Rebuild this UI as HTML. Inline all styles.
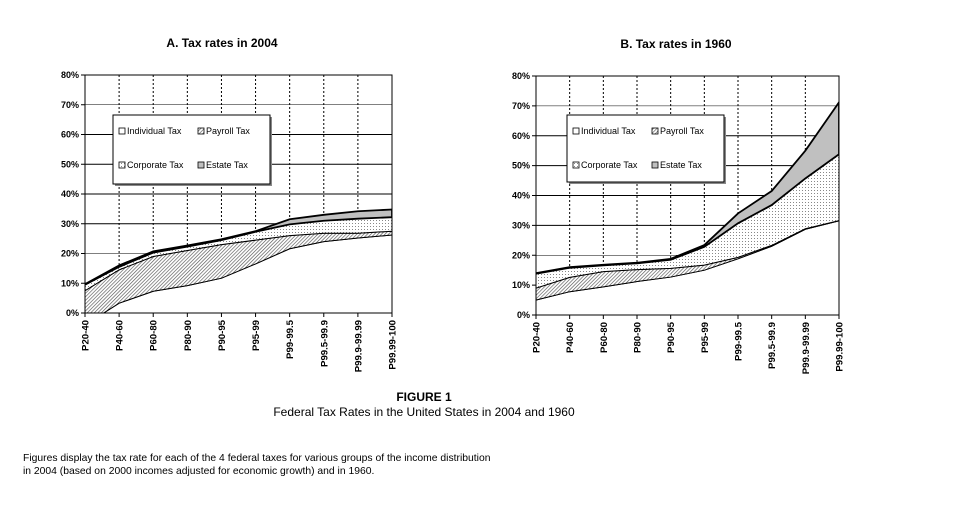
<!DOCTYPE html>
<html><head><meta charset="utf-8"><style>
body{margin:0;background:#fff;width:968px;height:518px;overflow:hidden;font-family:"Liberation Sans",Arial,sans-serif}
svg{position:absolute;left:0;top:0}
.t{position:absolute;white-space:nowrap;color:#000}
</style></head><body>
<svg id="s" width="968" height="518">
<defs>
<pattern id="hatch" width="2.5" height="2.5" patternUnits="userSpaceOnUse" patternTransform="rotate(45)"><rect width="2.5" height="2.5" fill="#fff"/><line x1="0" y1="0" x2="0" y2="2.5" stroke="#555" stroke-width="1.3"/></pattern>
<pattern id="dots" width="3" height="3" patternUnits="userSpaceOnUse"><rect width="3" height="3" fill="#fff"/><rect x="1" y="1" width="1" height="1" fill="#888"/></pattern>
</defs>
</svg>
<div class="t" style="left:0;width:848px;text-align:center;top:390px;font-size:12px;font-weight:bold">FIGURE 1</div>
<div class="t" style="left:0;width:848px;text-align:center;top:405px;font-size:12px">Federal Tax Rates in the United States in 2004 and 1960</div>
<div class="t" style="left:23px;top:452px;font-size:10.35px;line-height:13px">Figures display the tax rate for each of the 4 federal taxes for various groups of the income distribution<br>in 2004 (based on 2000 incomes adjusted for economic growth) and in 1960.</div>
<script>
const categories=["P20-40","P40-60","P60-80","P80-90","P90-95","P95-99","P99-99.5","P99.5-99.9","P99.9-99.99","P99.99-100"];
const yTicks=[0,10,20,30,40,50,60,70,80];
const a_individual=[-4,3.3,7.3,9.2,11.7,16.5,21.6,24,25.2,26.2];
const a_payroll=[11.5,11.2,11.7,11.8,11.3,8,4.4,2.8,1.6,1.3];
const a_corporate=[2,1,1.3,1.3,1.5,2.8,3.8,4.2,4.9,4.7];
const a_estate=[0.2,0.5,0.4,0.4,0.3,0.2,1.7,2,2.5,2.6];
const b_individual=[5,7.8,9.4,11.2,12.7,15,18.8,23,28.7,31.5];
const b_payroll=[4,4.8,5.1,4,2.9,1.7,0.5,0.3,0.2,0.1];
const b_corporate=[4.8,3.2,2.1,2.1,2.9,6.1,11.4,13.5,16.8,22.2];
const b_estate=[0.2,0.2,0.2,0.2,0.3,0.6,3.3,4.7,9.3,17.4];
const NS="http://www.w3.org/2000/svg";
const svg=document.getElementById('s');
function mk(tag,attrs,parent){const e=document.createElementNS(NS,tag);for(const k in attrs)e.setAttribute(k,attrs[k]);(parent||svg).appendChild(e);return e;}
function chart(id,title,titleX,L,R,T,B,series,lg){
  const g=mk('g',{});
  
  
  const x=i=>L+(R-L)*i/(categories.length-1);
  const y=v=>B-(B-T)*v/80;
  const clipId=id+'-clip';
  const cp=mk('clipPath',{id:clipId},g);mk('rect',{x:L,y:T,width:R-L,height:B-T},cp);
  yTicks.forEach(v=>{
    const ln=mk('line',{x1:L,x2:R,y1:y(v),y2:y(v),stroke:'#000','stroke-width':v==70||v==20?0.6:1},g);
    
    
    const tx=mk('text',{x:L-6,y:y(v)+3,'text-anchor':'end','font-size':9,'font-weight':'bold'},g);tx.textContent=v+'%';
    
    
    mk('line',{x1:L-4,x2:L,y1:y(v),y2:y(v),stroke:'#000'},g);
  });
  categories.forEach((c,i)=>{
    if(i>0&&i<categories.length-1){const d=mk('line',{x1:x(i),x2:x(i),y1:T,y2:B,stroke:'#000','stroke-dasharray':'2,2','stroke-width':1},g);
      
      }
    mk('line',{x1:x(i),x2:x(i),y1:B,y2:B+4,stroke:'#000'},g);
    const tx=mk('text',{transform:`translate(${x(i)+3.5},${B+7}) rotate(-90)`,'text-anchor':'end','font-size':9.6,'font-weight':'bold'},g);tx.textContent=c;
    
    
  });
  const fills=['#fff','url(#hatch)','url(#dots)','#c0c0c0'];
  const names=['individual-tax-area','payroll-tax-area','corporate-tax-area','estate-tax-area'];
  let base=categories.map(()=>0);
  const layers=[];
  series.forEach((s,k)=>{
    const top=base.map((b,i)=>b+s[i]);
    layers.push({lo:base.slice(),hi:top});base=top;
  });
  const ag=mk('g',{'clip-path':`url(#${clipId})`},g);
  layers.forEach((l,k)=>{
    let d='M'+l.hi.map((v,i)=>x(i)+','+y(v)).join(' L');
    const lo=k==0?categories.map(()=>-10):l.lo;
    for(let i=categories.length-1;i>=0;i--)d+=' L'+x(i)+','+y(lo[i]);
    const p=mk('path',{d:d+'Z',fill:fills[k],stroke:'#000','stroke-width':k==3?1.8:1},ag);
    
    
  });
  mk('rect',{x:L,y:T,width:R-L,height:B-T,fill:'none',stroke:'#000','stroke-width':1},g);
  const tt=mk('text',{x:titleX,y:T-28,'text-anchor':'middle','font-size':12,'font-weight':'bold'},g);tt.textContent=title;
  
  
  const lgG=mk('g',{},g);
  
  
  mk('rect',{x:lg[0]+2,y:lg[1]+2,width:lg[2],height:lg[3],fill:'#888'},lgG);
  mk('rect',{x:lg[0],y:lg[1],width:lg[2],height:lg[3],fill:'#fff',stroke:'#000'},lgG);
  const labs=['Individual Tax','Payroll Tax','Corporate Tax','Estate Tax'];
  labs.forEach((t,k)=>{
    const lx=lg[0]+6+(k%2)*79, ly=lg[1]+19+Math.floor(k/2)*34;
    const e=mk('g',{},lgG);
    
    
    mk('rect',{x:lx,y:ly-6,width:6,height:6,fill:fills[k],stroke:'#000','stroke-width':0.8},e);
    const tx=mk('text',{x:lx+8,y:ly,'font-size':9},e);tx.textContent=t;
  });
}
chart('chart-2004','A. Tax rates in 2004',222,85,392,75,313,[a_individual,a_payroll,a_corporate,a_estate],[113,115,157,69]);
chart('chart-1960','B. Tax rates in 1960',676,536,839,76,315,[b_individual,b_payroll,b_corporate,b_estate],[567,115,157,67]);
</script>
</body></html>
